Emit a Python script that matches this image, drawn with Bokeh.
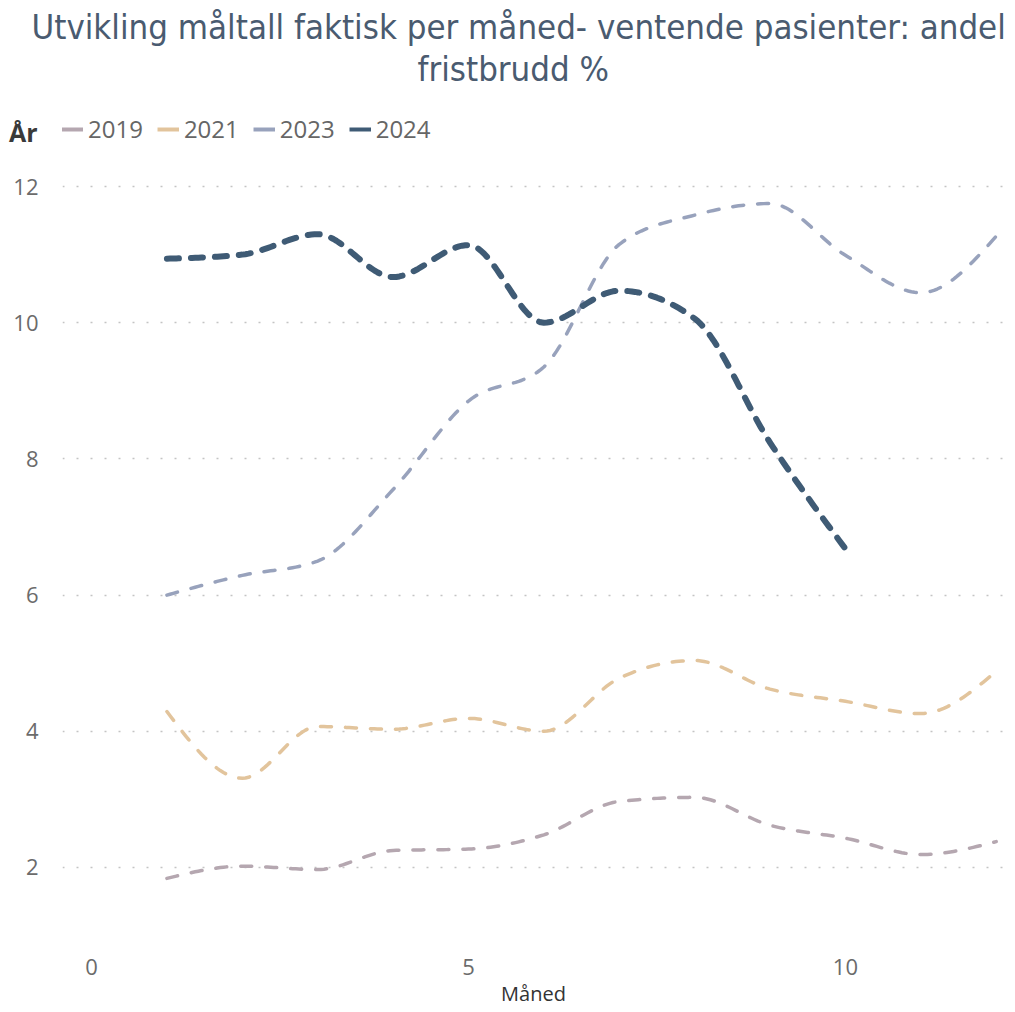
import numpy as np
from bokeh.plotting import figure
from bokeh.layouts import column
from bokeh.models import (Range1d, FixedTicker, Legend, LegendItem, Title, LinearAxis)
from bokeh.embed import file_html
from bokeh.resources import INLINE

# ---- data ----
months = [1, 2, 3, 4, 5, 6, 7, 8, 9, 10, 11, 12]
months_2024 = [1, 2, 3, 4, 5, 6, 7, 8, 9, 10]
y2019 = [1.84, 2.02, 1.97, 2.25, 2.27, 2.48, 2.97, 3.03, 2.62, 2.43, 2.19, 2.38]
y2021 = [4.29, 3.31, 4.07, 4.03, 4.19, 4.00, 4.78, 5.04, 4.62, 4.44, 4.26, 4.88]
y2023 = [6.00, 6.29, 6.50, 7.55, 8.85, 9.35, 11.15, 11.58, 11.75, 10.99, 10.44, 11.27]
y2024 = [10.94, 11.00, 11.30, 10.67, 11.14, 10.00, 10.47, 10.06, 8.24, 6.68]
years = ["2019", "2021", "2023", "2024"]
y_ticks = [2, 4, 6, 8, 10, 12]
x_ticks = [0, 5, 10]

title_line1 = "Utvikling måltall faktisk per måned- ventende pasienter: andel"
title_line2 = "fristbrudd %"
legend_title = "År"
x_label = "Måned"


def monotone_x(xs, ys, n=24):
    """Monotone cubic (d3 curveMonotoneX-like) rendering of the series."""
    xs = np.asarray(xs, float)
    ys = np.asarray(ys, float)
    h = np.diff(xs)
    s = np.diff(ys) / h
    m = len(xs)
    t = np.zeros(m)
    for i in range(1, m - 1):
        h0, h1 = h[i - 1], h[i]
        s0, s1 = s[i - 1], s[i]
        p_ = (s0 * h1 + s1 * h0) / (h0 + h1)
        t[i] = (np.sign(s0) + np.sign(s1)) * min(abs(s0), abs(s1), 0.5 * abs(p_))
    t[0] = (3 * s[0] - t[1]) / 2 if m > 2 else s[0]
    t[-1] = (3 * s[-1] - t[-2]) / 2 if m > 2 else s[-1]
    ox, oy = [], []
    for i in range(m - 1):
        u = np.linspace(0, 1, n, endpoint=(i == m - 2))
        hh = h[i]
        h00 = 2 * u**3 - 3 * u**2 + 1
        h10 = u**3 - 2 * u**2 + u
        h01 = -2 * u**3 + 3 * u**2
        h11 = u**3 - u**2
        ox.extend(xs[i] + u * hh)
        oy.extend(h00 * ys[i] + h10 * hh * t[i] + h01 * ys[i + 1] + h11 * hh * t[i + 1])
    return ox, oy


colors = {"2019": "#B5A7B0", "2021": "#E2C49C", "2023": "#98A2BC", "2024": "#3F5B75"}
series = [("2019", months, y2019, 3.5, "11 14"),
          ("2021", months, y2021, 3.5, "11 14"),
          ("2023", months, y2023, 3.5, "11 14"),
          ("2024", months_2024, y2024, 6, "12 12")]

# ---------------- header figure: title + legend ----------------
HEAD_FRAME = 71
head = figure(width=1012, frame_height=HEAD_FRAME, x_axis_type=None, y_axis_type=None,
              x_range=Range1d(0, 1), y_range=Range1d(0, HEAD_FRAME),
              min_border_left=0, min_border_right=0, min_border_bottom=0,
              min_border_top=89, output_backend="svg", toolbar_location=None)
head.outline_line_color = None
head.grid.visible = False

legend_items = []
for name, xs, ys, w, dash in series:
    sw = head.line(xs, ys, line_color=colors[name], line_width=4, visible=False)
    legend_items.append(LegendItem(label=name, renderers=[sw]))

legend = Legend(items=legend_items, orientation="horizontal",
                location=(-1, 15), padding=0, margin=0, spacing=14,
                glyph_width=22, glyph_height=30, label_height=30,
                label_standoff=5, background_fill_alpha=0, border_line_color=None,
                label_text_font="Open Sans", label_text_font_size="24px",
                label_text_color="#666666")
head.add_layout(legend, "center")

# legend heading "År" drawn as the single label of a left axis of the header
ar_axis = LinearAxis(ticker=FixedTicker(ticks=[29]), major_label_overrides={29: legend_title},
                     axis_line_color=None, major_tick_line_color=None,
                     minor_tick_line_color=None, major_label_standoff=19,
                     major_label_text_font="Open Sans", major_label_text_font_size="25px",
                     major_label_text_font_style="bold", major_label_text_color="#3a3a3a")
head.add_layout(ar_axis, "left")

t2 = Title(text=title_line2, align="left", offset=355, standoff=0, vertical_align="middle",
           text_font="DejaVu Sans Condensed", text_font_size="34.5px",
           text_font_style="normal", text_color="#4A5B70")
t1 = Title(text=title_line1, align="left", offset=-31, standoff=0, vertical_align="middle",
           text_font="DejaVu Sans Condensed", text_font_size="34.5px",
           text_font_style="normal", text_color="#4A5B70")
head.add_layout(t2, "above")
head.add_layout(t1, "above")

# ---------------- chart figure ----------------
p = figure(
    frame_width=942, frame_height=770,
    min_border_left=62, min_border_right=8, min_border_top=10, min_border_bottom=60,
    x_range=Range1d(-0.385, 12.11), y_range=Range1d(0.928, 12.235),
    output_backend="svg", toolbar_location=None,
)
p.outline_line_color = None

for name, xs, ys, w, dash in series:
    sx, sy = monotone_x(xs, ys)
    p.line(sx, sy, line_color=colors[name], line_width=w, line_dash=dash,
           line_cap="round", line_join="round")

p.xaxis.ticker = FixedTicker(ticks=x_ticks)
p.yaxis.ticker = FixedTicker(ticks=y_ticks)
for ax in (p.xaxis[0], p.yaxis[0]):
    ax.axis_line_color = None
    ax.major_tick_line_color = None
    ax.minor_tick_line_color = None
    ax.major_label_text_font = "Open Sans"
    ax.major_label_text_font_size = "22px"
    ax.major_label_text_color = "#6b6b6b"
p.yaxis.major_label_standoff = 18
p.xaxis.major_label_standoff = 12
p.xaxis.axis_label = x_label
p.xaxis.axis_label_text_font = "Open Sans"
p.xaxis.axis_label_text_font_size = "20px"
p.xaxis.axis_label_text_font_style = "normal"
p.xaxis.axis_label_text_color = "#333333"
p.xaxis.axis_label_standoff = 2

p.xgrid.grid_line_color = None
p.ygrid.grid_line_color = "#c4c4c4"
p.ygrid.grid_line_width = 1.5
p.ygrid.grid_line_dash = "2 12"

layout = column(head, p, spacing=0)
open("out.html", "w").write(file_html(layout, INLINE))
